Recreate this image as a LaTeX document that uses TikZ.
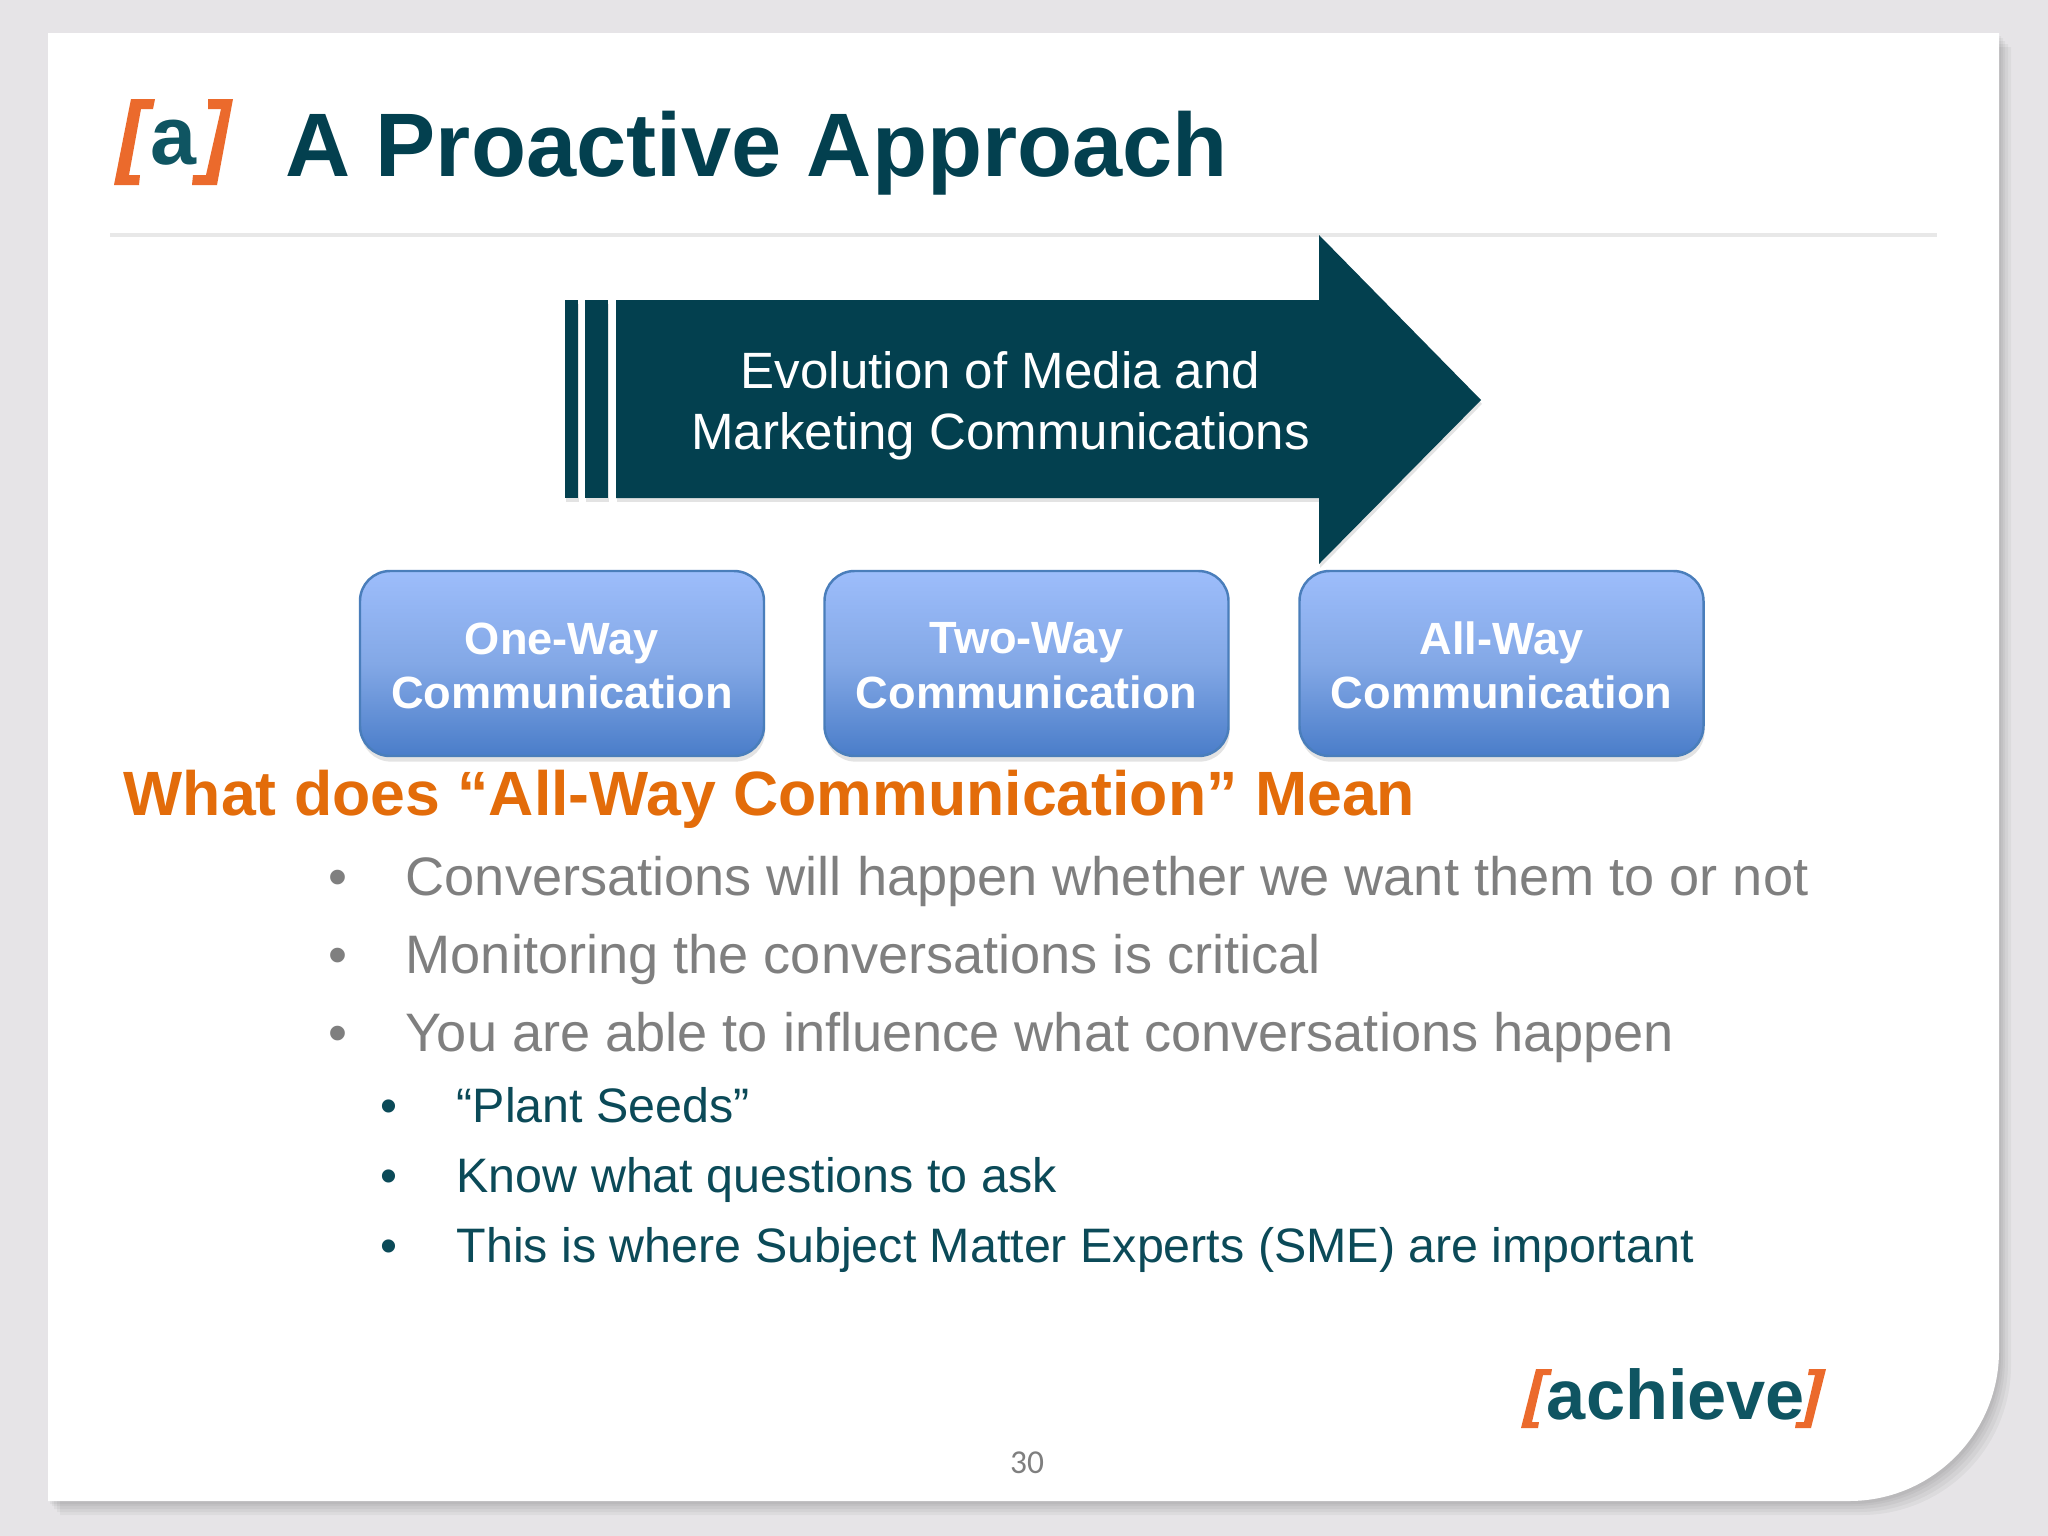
\documentclass[tikz,border=0pt]{standalone}
\usepackage{xcolor}
\usepackage{fontspec}
\setmainfont{Liberation Sans}
\newfontfamily\pagefont{Carlito}
\usetikzlibrary{shadows}
\definecolor{pagebg}{HTML}{E6E4E7}
\definecolor{tealdark}{HTML}{03404F}
\definecolor{tealtext}{HTML}{0B4A58}
\definecolor{logoteal}{HTML}{0F5562}
\definecolor{logoorange}{HTML}{EB6A2C}
\definecolor{headorange}{HTML}{E36C0A}
\definecolor{graytext}{HTML}{7F7F7F}
\definecolor{ruleline}{HTML}{E8E8E8}
\definecolor{boxtop}{HTML}{9DBDFB}
\definecolor{boxmid}{HTML}{83A8E6}
\definecolor{boxbot}{HTML}{4A7DC9}
\definecolor{boxedge}{HTML}{4A7EBB}
\tikzset{
    slidesoft/.style={fill=black, fill opacity=0.04, draw=none},
    arrowpart/.style={fill=tealdark, draw=none, drop shadow={shadow xshift=0.3pt, shadow yshift=-1.1pt, opacity=0.22}},
    commbox/.style={rounded corners=30*0.01cm, minimum width=404*0.01cm, minimum height=185*0.01cm,
        top color=boxtop, bottom color=boxbot, middle color=boxmid, draw=boxedge, line width=0.7pt,
        drop shadow={shadow xshift=0.3pt, shadow yshift=-1.6pt, opacity=0.22}},
    commtext/.style={text=white, align=center, font=\fontsize{12.85}{15.4}\selectfont\bfseries},
    arrowtext/.style={text=white, align=center, font=\fontsize{14.52}{17.4}\selectfont},
    maintext/.style={anchor=base west, inner sep=0pt, text=graytext, font=\fontsize{15.4}{18}\selectfont},
    subtext/.style={anchor=base west, inner sep=0pt, text=tealtext, font=\fontsize{13.76}{17}\selectfont},
}
\newcommand{\slideoutline}{(48,33) -- (1999,33) -- (1999,1351) arc[start angle=0, end angle=90, radius=150] -- (48,1501) -- cycle}
\begin{document}
\begin{tikzpicture}[x=0.01cm, y=-0.01cm]
        \useasboundingbox (0,0) rectangle (2048,1536);
        % Page and slide
        \fill[pagebg] (0,0) rectangle (2048,1536);
        \begin{scope}[shift={(12,14)}]
            \fill[slidesoft] \slideoutline;
        \end{scope}
        \begin{scope}[shift={(9,11)}]
            \fill[slidesoft] \slideoutline;
        \end{scope}
        \begin{scope}[shift={(6,8)}]
            \fill[slidesoft] \slideoutline;
        \end{scope}
        \begin{scope}[shift={(4,5)}]
            \fill[slidesoft] \slideoutline;
        \end{scope}
        \begin{scope}[shift={(2,3)}]
            \fill[slidesoft] \slideoutline;
        \end{scope}
        \fill[white] \slideoutline;
        % Title and logo
        \fill[logoorange] (131,99) -- (155,99) -- (153,109) -- (141,109) -- (129,175) -- (140,175) -- (139,185) -- (114,185) -- cycle;
        \fill[logoorange] (208,99) -- (233,99) -- (217,185) -- (192,185) -- (193,175) -- (206,175) -- (221,109) -- (208,109) -- cycle;
        \node[anchor=base, inner sep=0pt, text=logoteal, font=\fontsize{23.5}{28}\selectfont\bfseries] (logoa) at (173,164) {a};
        \node[anchor=base west, inner sep=0pt, text=tealdark, font=\fontsize{25.65}{30}\selectfont\bfseries] (title) at (285,176) {A Proactive Approach};
        \fill[ruleline] (110,233) rectangle (1937,237);
        % Evolution arrow
        \path[arrowpart] (565,300) rectangle (578,498);
        \path[arrowpart] (585,300) rectangle (608,498);
        \path[arrowpart] (616,300) -- (1319,300) -- (1319,235) -- (1481,400) -- (1319,564) -- (1319,498) -- (616,498) -- cycle;
        \node[arrowtext] (evolution) at (1000.5,406) {Evolution of Media and\\Marketing Communications};
        % Communication boxes
        \node[commbox] (oneway) at (562,663.5) {};
        \node[commbox] (twoway) at (1026.5,663.5) {};
        \node[commbox] (allway) at (1501.5,663.5) {};
        \node[commtext] (onetext) at ([yshift=-0.022cm]oneway.center) {One-Way\\Communication};
        \node[commtext] (twotext) at ([yshift=-0.022cm]twoway.center) {Two-Way\\Communication};
        \node[commtext] (alltext) at ([yshift=-0.022cm]allway.center) {All-Way\\Communication};
        % Text block
        \node[anchor=base west, inner sep=0pt, text=headorange, font=\fontsize{17.8}{21}\selectfont\bfseries] (heading) at (123,815) {What does “All-Way Communication” Mean};
        \node[maintext] (bulla) at (328,895) {•};
        \node[maintext] (linea) at (405,895) {Conversations will happen whether we want them to or not};
        \node[maintext] (bullb) at (328,973) {•};
        \node[maintext] (lineb) at (405,973) {Monitoring the conversations is critical};
        \node[maintext] (bullc) at (328,1051) {•};
        \node[maintext] (linec) at (405,1051) {You are able to influence what conversations happen};
        \node[subtext] (bulld) at (380,1122) {•};
        \node[subtext] (lined) at (456,1122) {“Plant Seeds”};
        \node[subtext] (bulle) at (380,1192) {•};
        \node[subtext] (linee) at (456,1192) {Know what questions to ask};
        \node[subtext] (bullf) at (380,1262) {•};
        \node[subtext] (linef) at (456,1262) {This is where Subject Matter Experts (SME) are important};
        % Footer logo and page number
        \fill[logoorange] (1536,1369) -- (1552,1369) -- (1551,1375) -- (1543,1375) -- (1532,1422) -- (1539,1422) -- (1538,1428) -- (1521,1428) -- cycle;
        \fill[logoorange] (1811,1428) -- (1795,1428) -- (1796,1422) -- (1804,1422) -- (1815,1375) -- (1808,1375) -- (1809,1369) -- (1826,1369) -- cycle;
        \node[anchor=base, inner sep=0pt, text=logoteal, font=\fontsize{20}{24}\selectfont\bfseries] (achieve) at (1676,1419) {achieve};
        \node[anchor=base, inner sep=0pt, text=graytext, font=\pagefont\fontsize{9.5}{11}\selectfont] (pagenum) at (1027,1473) {30};
    \end{tikzpicture}
\end{document}
